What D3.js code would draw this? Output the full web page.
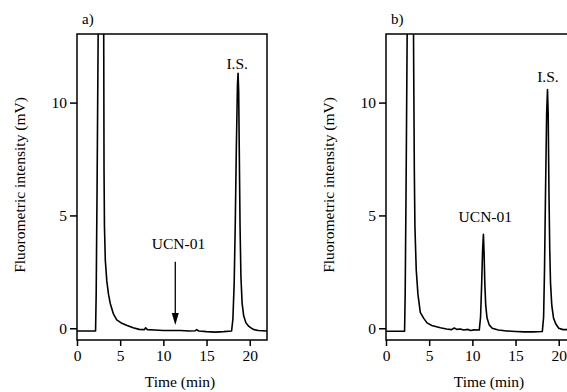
<!DOCTYPE html>
<html>
<head>
<meta charset="utf-8">
<script src="https://cdn.jsdelivr.net/npm/d3@7"></script>
<style>
  html, body { margin: 0; padding: 0; background: #fff; }
  svg { display: block; }
  svg text { font-family: "Liberation Serif", "Times New Roman", "DejaVu Serif", serif; }
</style>
</head>
<body>
<svg id="chart" width="567" height="392"></svg>
<script>
// ── Data ────────────────────────────────────────────────

const xTicks = [0, 5, 10, 15, 20];
const yTicks = [0, 5, 10];

// a) blank sample: solvent front, flat baseline, internal standard
const timeA = [0, 2.15, 2.22, 2.32, 2.45, 2.6, 2.85, 3.05, 3.1, 3.13, 3.18, 3.28, 3.45, 3.65, 3.85, 4.2, 4.6, 5.2, 5.8,
    6.5, 7.2, 7.8, 7.95, 8.15, 9, 10, 11, 12, 13, 13.7, 13.85, 14.1, 15, 16, 17, 17.9, 18.05, 18.2, 18.32,
    18.45, 18.58, 18.65, 18.72, 18.8, 18.88, 18.98, 19.12, 19.3, 19.55, 19.9, 20.4, 21, 22];
const fluorA = [-0.12, -0.12, 1.5, 6, 13, 30, 40, 20, 12, 7, 4.5, 3, 2.1, 1.5, 1.1, 0.65, 0.37, 0.22, 0.12,
    0.02, -0.05, -0.06, 0.02, -0.06, -0.08, -0.1, -0.1, -0.1, -0.12, -0.11, -0.06, -0.12, -0.15, -0.17, -0.15, -0.12, 0.4, 2, 4.5,
    8, 10.8, 11.3, 10.5, 7.5, 4.5, 2.3, 1.1, 0.55, 0.25, 0.08, -0.05, -0.1, -0.12];

// b) spiked sample: same trace plus the UCN-01 peak
const timeB = [0, 2.15, 2.22, 2.32, 2.45, 2.6, 2.85, 3.1, 3.2, 3.28, 3.35, 3.5, 3.7, 3.97, 4.35, 4.75, 5.3, 6.3,
    7, 7.6, 7.9, 8.2, 8.6, 9, 9.5, 9.8, 10.2, 10.8, 10.95, 11.08, 11.18, 11.28, 11.36, 11.44, 11.55, 11.7, 11.95,
    12.3, 13, 14, 15, 16, 17, 18.1, 18.25, 18.35, 18.47, 18.6, 18.7, 18.78, 18.87, 18.96, 19.05, 19.2, 19.4, 19.65, 20, 20.5, 21];
const fluorB = [-0.13, -0.13, 1.5, 6, 13, 30, 40, 20, 12, 7, 4.5, 2.6, 1.5, 0.7, 0.45, 0.24, 0.12, 0.02,
    -0.03, -0.06, 0.01, -0.05, -0.03, -0.08, -0.05, -0.1, -0.07, -0.08, 0.5, 2, 3.4, 4.16, 3.3, 2, 1, 0.45, 0.15,
    0, -0.08, -0.12, -0.14, -0.16, -0.16, -0.14, 0.5, 2.5, 6, 9.5, 10.58, 9.5, 6, 3.5, 2, 1, 0.45, 0.2, 0, -0.06, -0.06];

const panelLabels = ['a)', 'b)'];
const peakLabels = [
    [{ text: 'I.S.', t: 18.55, v: 11.3, dy: 4 }, { text: 'UCN-01', t: 11.75, v: 3.5, dy: 0, arrow: [11.38, 2.95, 0.15] }],
    [{ text: 'I.S.', t: 18.75, v: 10.58, dy: 8 }, { text: 'UCN-01', t: 11.5, v: 4.16, dy: 12 }]
];

// ── Layout ──────────────────────────────────────────────

const W = 190, H = 306;
const panelLeft = [77, 386];
const panelTop = 34;
const fontSize = '15.5px';

const svg = d3.select('#chart');

const x = d3.scaleLinear().domain([0, 22]).range([0, W]);
const y = d3.scaleLinear().domain([-0.52, 13.04]).range([H, 0]);

svg.append('defs').append('clipPath')
    .attr('id', 'plot-clip')
    .append('rect')
    .attr('width', W).attr('height', H);

const traces = [
    d3.zip(timeA, fluorA),
    d3.zip(timeB, fluorB)
];

const line = d3.line()
    .x(d => x(d[0]))
    .y(d => y(d[1]));

traces.forEach((trace, i) => {
    const g = svg.append('g')
        .attr('transform', `translate(${panelLeft[i]},${panelTop})`);

    // Trace
    g.append('path')
        .datum(trace)
        .attr('d', line)
        .attr('clip-path', 'url(#plot-clip)')
        .attr('fill', 'none')
        .attr('stroke', '#000')
        .attr('stroke-width', 1.6)
        .attr('stroke-linejoin', 'round');

    // Frame
    g.append('rect')
        .attr('width', W).attr('height', H)
        .attr('fill', 'none')
        .attr('stroke', '#000')
        .attr('stroke-width', 1.5);

    // Axes
    const yAxis = g.append('g')
        .call(d3.axisLeft(y).tickValues(yTicks).tickSize(7).tickPadding(3));
    const xAxis = g.append('g')
        .attr('transform', `translate(0,${H})`)
        .call(d3.axisBottom(x).tickValues(xTicks).tickSize(6).tickPadding(4));
    [xAxis, yAxis].forEach(ax => {
        ax.attr('font-family', null).attr('font-size', null);
        ax.select('.domain').remove();
        ax.selectAll('line').attr('stroke', '#000').attr('stroke-width', 1.5);
        ax.selectAll('text')
            .attr('fill', '#000')
            .style('font-size', fontSize);
    });

    // Axis titles
    g.append('text')
        .attr('transform', `translate(-58,${H / 2 - 2}) rotate(-90)`)
        .attr('text-anchor', 'middle')
        .attr('dominant-baseline', 'central')
        .style('font-size', fontSize)
        .text('Fluorometric intensity (mV)');
    g.append('text')
        .attr('x', W / 2 + 8)
        .attr('y', H + 47)
        .attr('text-anchor', 'middle')
        .style('font-size', fontSize)
        .text('Time (min)');

    // Panel letter
    g.append('text')
        .attr('x', 5)
        .attr('y', -10)
        .style('font-size', '15px')
        .text(panelLabels[i]);

    // Peak annotations
    peakLabels[i].forEach(p => {
        g.append('text')
            .attr('x', x(p.t))
            .attr('y', y(p.v) - p.dy)
            .attr('text-anchor', 'middle')
            .style('font-size', fontSize)
            .text(p.text);
        if (p.arrow) {
            const [at, from, to] = p.arrow;
            g.append('line')
                .attr('x1', x(at)).attr('x2', x(at))
                .attr('y1', y(from)).attr('y2', y(to) - 8)
                .attr('stroke', '#000')
                .attr('stroke-width', 1.3);
            g.append('path')
                .attr('d', `M${x(at) - 3.5},${y(to) - 12} L${x(at) + 3.5},${y(to) - 12} L${x(at)},${y(to)} Z`)
                .attr('fill', '#000');
        }
    });
});
</script>
</body>
</html>
